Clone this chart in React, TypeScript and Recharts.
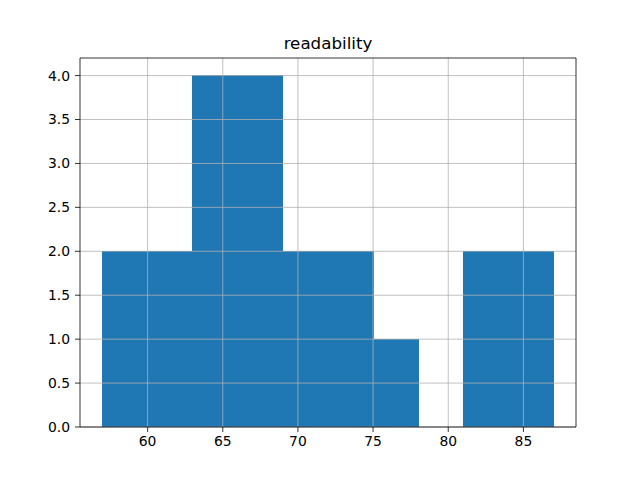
import React from 'react';
import { BarChart, Bar, XAxis, YAxis, ReferenceLine } from 'recharts';

// histogram bins (width 3) of readability scores
const binCenters = [58.5, 61.5, 64.5, 67.5, 70.5, 73.5, 76.5, 79.5, 82.5, 85.5];
const counts = [2, 2, 4, 4, 2, 2, 1, 0, 2, 2];
const xTicks = [60, 65, 70, 75, 80, 85];
const yTicks = [0, 0.5, 1, 1.5, 2, 2.5, 3, 3.5, 4];
const xDomain = [55.5, 88.5];
const yDomain = [0, 4.2];

const data = binCenters.map((x, i) => ({ x, count: counts[i] }));

const font = 'DejaVu Sans, sans-serif';
const tickStyle = { fill: '#000', fontSize: 13.9, fontFamily: font };
const gridColor = '#b0b0b0';

const App = () => {
  return (
    <div style={{ position: 'absolute', left: 0, top: 0, width: 640, height: 480, background: '#fff' }}>
      <div
        style={{
          position: 'absolute',
          left: 80,
          top: 34,
          width: 496,
          textAlign: 'center',
          fontFamily: font,
          fontSize: 16.7,
          lineHeight: '18px',
          color: '#000',
        }}
      >
        readability
      </div>
      <BarChart
        width={640}
        height={480}
        data={data}
        barCategoryGap={0}
        barGap={0}
        margin={{ top: 58, right: 64, left: 40, bottom: 23 }}
      >
        <XAxis
          dataKey="x"
          type="number"
          domain={xDomain}
          ticks={xTicks}
          allowDataOverflow
          axisLine={false}
          tickLine={{ stroke: '#000', strokeWidth: 0.8 }}
          tickSize={5}
          tickMargin={4}
          height={30}
          tick={tickStyle}
        />
        <YAxis
          type="number"
          domain={yDomain}
          ticks={yTicks}
          allowDataOverflow
          axisLine={false}
          tickLine={{ stroke: '#000', strokeWidth: 0.8 }}
          tickSize={5}
          tickMargin={5}
          width={40}
          tick={tickStyle}
          tickFormatter={(v: number) => v.toFixed(1)}
        />
        <Bar
          dataKey="count"
          fill="#1f77b4"
          stroke="#1f77b4"
          strokeWidth={1}
          shapeRendering="crispEdges"
          isAnimationActive={false}
        />
        {xTicks.map((t) => (
          <ReferenceLine key={'gx' + t} x={t} stroke={gridColor} strokeWidth={0.8} />
        ))}
        {yTicks.map((t) => (
          <ReferenceLine key={'gy' + t} y={t} stroke={gridColor} strokeWidth={0.8} />
        ))}
        {/* axes frame */}
        <ReferenceLine x={xDomain[0]} stroke="#000" strokeWidth={0.8} />
        <ReferenceLine x={xDomain[1]} stroke="#000" strokeWidth={0.8} />
        <ReferenceLine y={yDomain[0]} stroke="#000" strokeWidth={0.8} />
        <ReferenceLine y={yDomain[1]} stroke="#000" strokeWidth={0.8} />
      </BarChart>
    </div>
  );
};

export default App;
